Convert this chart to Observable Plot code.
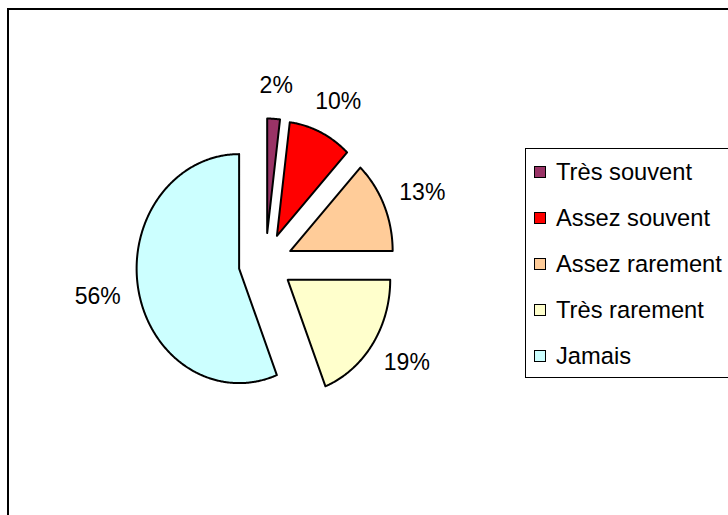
<!DOCTYPE html>
<html><head><meta charset="utf-8">
<script src="https://cdn.jsdelivr.net/npm/d3@7"></script>
<script src="https://cdn.jsdelivr.net/npm/@observablehq/plot@0.6"></script>
<style>
body{margin:0;background:#fff;}
#wrap{position:relative;width:728px;height:515px;overflow:hidden;font-family:"Liberation Sans",Arial,sans-serif;background:#fff;}
#frame{position:absolute;left:7px;top:8px;width:800px;height:600px;border:2px solid #000;}
#chart{position:absolute;left:0;top:0;}
#legend{position:absolute;left:525px;top:148px;width:260px;height:228px;border:1px solid #000;background:#fff;}
.item{position:absolute;left:8px;height:26px;display:flex;align-items:center;font-size:23.7px;color:#000;white-space:nowrap;}
.sw{width:10px;height:10px;border:1.5px solid #000;margin-right:10px;flex:none;}
</style></head>
<body>
<div id="wrap"><div id="frame"></div><div id="chart"></div><div id="legend"></div></div>
<script>
const categories = ["Très souvent","Assez souvent","Assez rarement","Très rarement","Jamais"];
const values = [2,10,13,19,56];
const percentLabels = ["2%","10%","13%","19%","56%"];
const colors = ["#993366","#FF0000","#FFCC99","#FFFFCC","#CCFFFF"];

// geometry (pixels)
const W = 728, H = 515;
const CX = 265, CY = 262.5, RX = 102.5, RY = 114.5, EXPLODE = 30;
const e = EXPLODE / RY;

const total = d3.sum(values);
let cum = 0;
const points = [];
const labelData = [];
values.forEach((v, i) => {
  const a0 = 2 * Math.PI * cum / total;
  cum += v;
  const a1 = 2 * Math.PI * cum / total;
  const mid = (a0 + a1) / 2;
  const ox = e * Math.sin(mid), oy = e * Math.cos(mid);
  points.push({name: categories[i], x: ox, y: oy});
  const n = Math.max(4, Math.ceil((a1 - a0) / (Math.PI / 360)));
  for (let k = 0; k <= n; k++) {
    const a = a0 + (a1 - a0) * k / n;
    points.push({name: categories[i], x: ox + Math.sin(a), y: oy + Math.cos(a)});
  }
  labelData.push({
    text: percentLabels[i],
    x: Math.sin(mid) * (1.467 + 0.2),
    y: Math.cos(mid) * (1.467 + 0.087)
  });
});

const chart = Plot.plot({
  width: W, height: H,
  margin: 0,
  style: {background: "transparent", overflow: "visible"},
  x: {domain: [-CX / RX, (W - CX) / RX], range: [0, W], axis: null},
  y: {domain: [-(H - CY) / RY, CY / RY], range: [H, 0], axis: null},
  color: {domain: categories, range: colors},
  marks: [
    Plot.line(points, {x: "x", y: "y", z: "name", fill: "name", stroke: "#000", strokeWidth: 2, curve: "linear-closed", strokeLinejoin: "round"}),
    Plot.text(labelData, {x: "x", y: "y", text: "text", fontSize: 23, fontFamily: "Liberation Sans, Arial, sans-serif", fill: "#000"})
  ]
});
document.getElementById("chart").appendChild(chart);

const legend = document.getElementById("legend");
categories.forEach((c, i) => {
  const it = document.createElement("div");
  it.className = "item";
  it.style.top = (23.3 + 46 * i - 13) + "px";
  const sw = document.createElement("span");
  sw.className = "sw";
  sw.style.background = colors[i];
  it.appendChild(sw);
  it.appendChild(document.createTextNode(c));
  legend.appendChild(it);
});
</script>
</body></html>
